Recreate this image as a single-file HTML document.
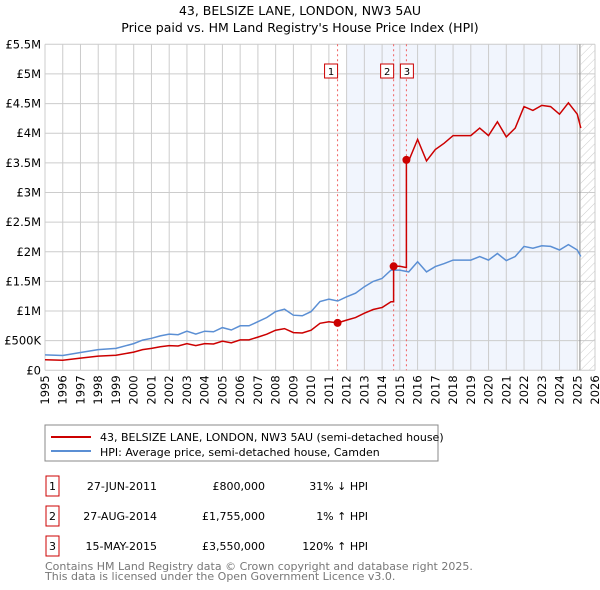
<!DOCTYPE html>
<html><head><meta charset="utf-8">
<style>
body{margin:0;background:#fff;font-family:"Liberation Sans","DejaVu Sans",sans-serif;}
#wrap{position:relative;width:600px;height:590px;overflow:hidden;}
svg text{font-family:"DejaVu Sans","Liberation Sans",sans-serif;}
</style></head>
<body>
<div id="wrap">
<svg id="svg" width="600" height="590" xmlns="http://www.w3.org/2000/svg">
<text x="300" y="15" text-anchor="middle" font-size="12.5" fill="#000">43, BELSIZE LANE, LONDON, NW3 5AU</text>
<text x="300" y="32" text-anchor="middle" font-size="12.5" fill="#000">Price paid vs. HM Land Registry's House Price Index (HPI)</text>
<g id="plot"></g>
<rect x="45" y="425" width="393" height="36" fill="#fff" stroke="#888"/>
<line x1="51" y1="437" x2="91" y2="437" stroke="#cc0000" stroke-width="2"/>
<text x="100" y="441" font-size="11">43, BELSIZE LANE, LONDON, NW3 5AU (semi-detached house)</text>
<line x1="51" y1="451" x2="91" y2="451" stroke="#5b8fd4" stroke-width="2"/>
<text x="100" y="456" font-size="11">HPI: Average price, semi-detached house, Camden</text>
<g id="table" font-size="11"></g>
<text x="45" y="570" font-size="11" fill="#777">Contains HM Land Registry data © Crown copyright and database right 2025.</text>
<text x="45" y="580" font-size="11" fill="#777">This data is licensed under the Open Government Licence v3.0.</text>
</svg>
</div>
<script>
const hpiYears = [1995,1996,1997,1998,1999,2000,2000.5,2001,2001.5,2002,2002.5,2003,2003.5,2004,2004.5,2005,2005.5,2006,2006.5,2007,2007.5,2008,2008.5,2009,2009.5,2010,2010.5,2011,2011.5,2012,2012.5,2013,2013.5,2014,2014.5,2015,2015.5,2016,2016.5,2017,2017.5,2018,2018.5,2019,2019.5,2020,2020.5,2021,2021.5,2022,2022.5,2023,2023.5,2024,2024.5,2025,2025.2];
const hpiValues = [0.26,0.25,0.30,0.35,0.37,0.45,0.51,0.54,0.58,0.61,0.60,0.66,0.61,0.66,0.65,0.72,0.68,0.75,0.75,0.82,0.89,0.99,1.03,0.93,0.92,0.99,1.16,1.20,1.17,1.24,1.30,1.41,1.50,1.55,1.69,1.69,1.66,1.83,1.66,1.75,1.80,1.86,1.86,1.86,1.92,1.86,1.97,1.85,1.92,2.09,2.06,2.10,2.09,2.03,2.12,2.03,1.92];
const saleLabels = ["1","2","3"];
const saleDates = [2011.49,2014.65,2015.37];
const salePrices = [0.8,1.755,3.55];
const saleDateText = ["27-JUN-2011","27-AUG-2014","15-MAY-2015"];
const salePriceText = ["£800,000","£1,755,000","£3,550,000"];
const saleHpiText = ["31% ↓ HPI","1% ↑ HPI","120% ↑ HPI"];
const yTicks = [0,0.5,1,1.5,2,2.5,3,3.5,4,4.5,5,5.5];
const yTickLabels = ["£0","£500K","£1M","£1.5M","£2M","£2.5M","£3M","£3.5M","£4M","£4.5M","£5M","£5.5M"];
const xTicks = [1995,1996,1997,1998,1999,2000,2001,2002,2003,2004,2005,2006,2007,2008,2009,2010,2011,2012,2013,2014,2015,2016,2017,2018,2019,2020,2021,2022,2023,2024,2025,2026];

const NS="http://www.w3.org/2000/svg";
const L=45,R=595,T=44.3,B=370.3;
const xs=y=>L+(y-1995)/(2026-1995)*(R-L);
const ys=v=>B-v/5.5*(B-T);
function mk(tag,attrs,parent){const e=document.createElementNS(NS,tag);for(const k in attrs)e.setAttribute(k,attrs[k]);parent.appendChild(e);return e;}
const plot=document.getElementById('plot');
function hpiAt(t){for(let i=0;i<hpiYears.length-1;i++){if(t<=hpiYears[i+1]){const f=(t-hpiYears[i])/(hpiYears[i+1]-hpiYears[i]);return hpiValues[i]+f*(hpiValues[i+1]-hpiValues[i]);}}return hpiValues[hpiValues.length-1];}

// shading
let e=mk('rect',{x:xs(2012),y:T,width:xs(2025)-xs(2012),height:B-T,fill:'#eef3fc',opacity:0.8},plot);


const defs=mk('defs',{},plot);
const pat=mk('pattern',{id:'hatch',width:6,height:6,patternUnits:'userSpaceOnUse',patternTransform:'rotate(45)'},defs);
mk('line',{x1:0,y1:0,x2:0,y2:6,stroke:'#ccc','stroke-width':1},pat);
e=mk('rect',{x:xs(2025.2),y:T,width:R-xs(2025.2),height:B-T,fill:'url(#hatch)'},plot);


// grid
yTicks.forEach((v,i)=>{
 const g=mk('line',{x1:L,x2:R,y1:ys(v),y2:ys(v),stroke:'#ccc','stroke-width':1},plot);
 
 
 const t=mk('text',{x:L-4,y:ys(v)+4,'text-anchor':'end','font-size':11.5},plot);
 t.textContent=yTickLabels[i];
 
 
});
xTicks.forEach(y=>{
 const g=mk('line',{x1:xs(y),x2:xs(y),y1:T,y2:B,stroke:'#ccc','stroke-width':1},plot);
 
 
 const t=mk('text',{x:0,y:0,'text-anchor':'end','font-size':11.5,transform:`translate(${xs(y)+4},${B+5}) rotate(-90)`},plot);
 t.textContent=y;
 
 
});
e=mk('line',{x1:xs(2025.15),x2:xs(2025.15),y1:T,y2:B,stroke:'#888','stroke-width':1},plot);


// sale vlines
saleDates.forEach((d,i)=>{
 const l=mk('line',{x1:xs(d),x2:xs(d),y1:T,y2:B,stroke:'#f06060','stroke-width':1,'stroke-dasharray':'2,3'},plot);
 
 
});
// HPI line
const hp=hpiYears.map((y,i)=>`${xs(y).toFixed(1)},${ys(hpiValues[i]).toFixed(1)}`).join(' ');
e=mk('polyline',{points:hp,fill:'none',stroke:'#5b8fd4','stroke-width':1.5},plot);


// red line: HPI indexed to each sale
const ratios=saleDates.map((d,i)=>salePrices[i]/hpiAt(d));
const pts=[];
hpiYears.forEach((y,i)=>{
 let k=0;for(let j=0;j<saleDates.length;j++)if(y>=saleDates[j])k=j;
 pts.push([y,hpiValues[i]*ratios[k]]);
 for(let j=0;j<saleDates.length;j++){
  if(i<hpiYears.length-1&&saleDates[j]>y&&saleDates[j]<hpiYears[i+1]){
   const pr=j>0?ratios[j-1]:ratios[0];
   pts.push([saleDates[j],hpiAt(saleDates[j])*pr]);
   pts.push([saleDates[j],salePrices[j]]);
  }
 }
});
pts.sort((a,b)=>a[0]-b[0]);
e=mk('polyline',{points:pts.map(p=>`${xs(p[0]).toFixed(1)},${ys(p[1]).toFixed(1)}`).join(' '),fill:'none',stroke:'#cc0000','stroke-width':1.5},plot);


saleDates.forEach((d,i)=>{
 const c=mk('circle',{cx:xs(d),cy:ys(salePrices[i]),r:4,fill:'#cc0000'},plot);
 
 
 const bx=i==2?xs(d)-6.5:i==1?xs(d)-13:xs(d)-13;
 const r=mk('rect',{x:i==2?xs(d)-6:xs(d)-13,y:64,width:13,height:14,fill:'#fff',stroke:'#cc0000'},plot);
 
 
 const t=mk('text',{x:(i==2?xs(d)-6:xs(d)-13)+6.5,y:75,'text-anchor':'middle','font-size':10},plot);
 t.textContent=saleLabels[i];
 
 
});
// table
const tb=document.getElementById('table');
saleLabels.forEach((s,i)=>{
 const y=483+i*30;
 const r=mk('rect',{x:46,y:y-7,width:13,height:20,fill:'#fff',stroke:'#cc0000'},tb);
 
 
 const cells=[[52.5,'middle',s,'table-row-number'],[157,'end',saleDateText[i],'table-date'],[265,'end',salePriceText[i],'table-price'],[368,'end',saleHpiText[i],'table-hpi-diff']];
 cells.forEach(c=>{
  const t=mk('text',{x:c[0],y:y+7,'text-anchor':c[1]},tb);
  t.textContent=c[2];
  
  
 });
});
</script>
</body></html>
